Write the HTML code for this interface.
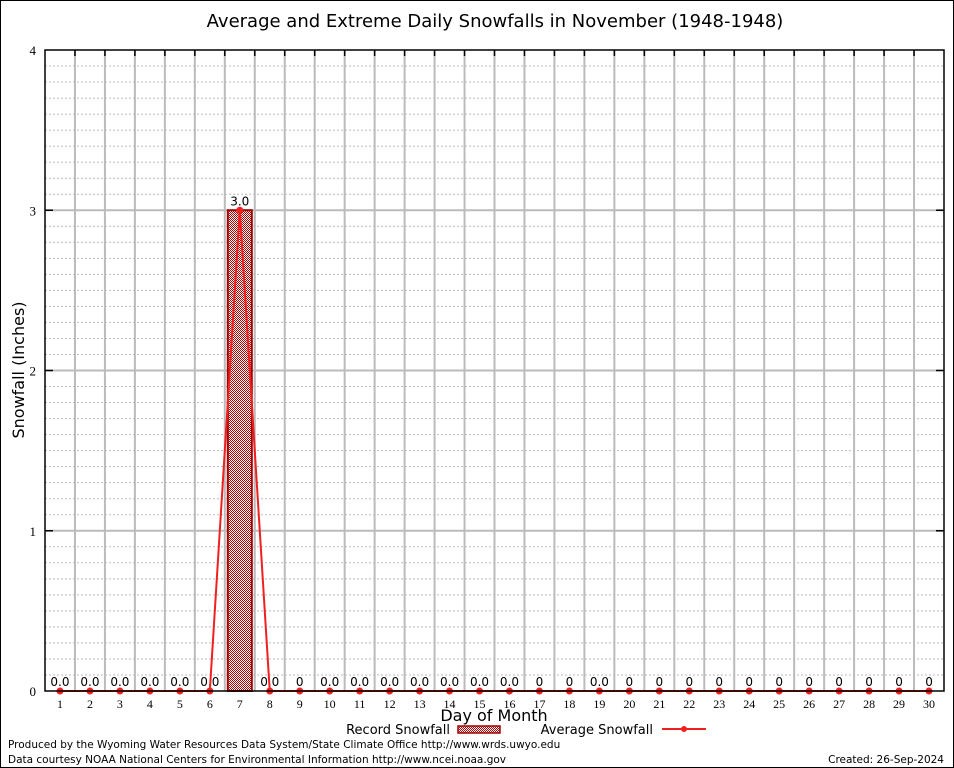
<!DOCTYPE html>
<html><head><meta charset="utf-8">
<style>
html,body{margin:0;padding:0;background:#fff;}
svg{display:block;}
text{font-family:"DejaVu Sans","Liberation Sans",sans-serif;}
text.serif{font-family:"Liberation Serif",serif;}
</style></head>
<body>
<svg id="chart" width="954" height="768" xmlns="http://www.w3.org/2000/svg">
  <rect x="0.5" y="0.5" width="953" height="767" fill="#fff" stroke="#000"/>
  <text x="495" y="27" font-size="18" text-anchor="middle">Average and Extreme Daily Snowfalls in November (1948-1948)</text>
  <defs>
    <pattern id="hatch" width="2" height="2" patternUnits="userSpaceOnUse">
      <rect width="2" height="2" fill="#fff"/>
      <rect width="1" height="1" fill="#b00000"/>
      <rect x="1" y="1" width="1" height="1" fill="#b00000"/>
    </pattern>
  </defs>
  <g id="grid"></g>
  <g id="marks"></g>
  <rect x="45" y="50" width="899" height="641" fill="none" stroke="#000" stroke-width="1.5"/>
  <text x="24" y="370" font-size="16" text-anchor="middle" transform="rotate(-90 24 370)">Snowfall (Inches)</text>
  <text x="494" y="721" font-size="16" text-anchor="middle">Day of Month</text>
  <g>
    <text x="450" y="734" font-size="13" text-anchor="end">Record Snowfall</text>
    <rect x="458" y="726" width="42" height="7" fill="url(#hatch)" stroke="#a00000" stroke-width="1.5"/>
    <text x="653" y="734" font-size="13" text-anchor="end">Average Snowfall</text>
    <line x1="662" y1="729" x2="706" y2="729" stroke="#f02020" stroke-width="2"/>
    <circle cx="684" cy="729" r="3" fill="#f02020"/>
  </g>
  <text x="8" y="748" font-size="10.5">Produced by the Wyoming Water Resources Data System/State Climate Office http://www.wrds.uwyo.edu</text>
  <text x="8" y="763" font-size="10.5">Data courtesy NOAA National Centers for Environmental Information http://www.ncei.noaa.gov</text>
  <text x="944" y="763" font-size="10.5" text-anchor="end">Created:  26-Sep-2024</text>
</svg>
<script>
const days = [1,2,3,4,5,6,7,8,9,10,11,12,13,14,15,16,17,18,19,20,21,22,23,24,25,26,27,28,29,30];
const recordSnow = [0,0,0,0,0,0,3.0,0,0,0,0,0,0,0,0,0,0,0,0,0,0,0,0,0,0,0,0,0,0,0];
const avgSnow = [0,0,0,0,0,0,3.0,0,0,0,0,0,0,0,0,0,0,0,0,0,0,0,0,0,0,0,0,0,0,0];
const recordLabels = ["0.0","0.0","0.0","0.0","0.0","0.0","3.0","0.0","0","0.0","0.0","0.0","0.0","0.0","0.0","0.0","0","0","0.0","0","0","0","0","0","0","0","0","0","0","0"];
const yTicks = [0,1,2,3,4];

const NS="http://www.w3.org/2000/svg";
const L=45,R=944,T=50,B=691,yMax=4;
const xs=d=>L+(d-0.5)*(R-L)/30;
const ys=v=>B-v*(B-T)/yMax;
function mk(tag,attrs,parent){const e=document.createElementNS(NS,tag);for(const k in attrs)e.setAttribute(k,attrs[k]);parent.appendChild(e);return e;}
const grid=document.getElementById('grid'), marks=document.getElementById('marks');

for(let i=1;i<yMax*10;i++){
  if(i%10===0)continue;
  const l=mk('line',{x1:L,x2:R,y1:ys(i/10),y2:ys(i/10),stroke:'#bbb','stroke-dasharray':'2,2'},grid);
  
  
}
for(let i=1;i<30;i++){
  const x=xs(i+0.5);
  const l=mk('line',{x1:x,x2:x,y1:T,y2:B,stroke:'#bbb','stroke-width':2},grid);
  
  
  const t=mk('line',{x1:x,x2:x,y1:T,y2:T+6,stroke:'#000','stroke-width':1.5},grid);
  
  
}
yTicks.forEach(v=>{
  if(v>0&&v<yMax){
    const l=mk('line',{x1:L,x2:R,y1:ys(v),y2:ys(v),stroke:'#bbb','stroke-width':2},grid);
    
    
    const t=mk('line',{x1:L,x2:L+8,y1:ys(v),y2:ys(v),stroke:'#000','stroke-width':1.5},grid);
    
    
    const t2=mk('line',{x1:R-8,x2:R,y1:ys(v),y2:ys(v),stroke:'#000','stroke-width':1.5},grid);
    
    
  }
  const tx=mk('text',{x:36,y:ys(v)+5,'font-size':13,'text-anchor':'end','class':'serif'},grid);
  tx.textContent=v;
  
  
});
days.forEach((d,i)=>{
  const x=xs(d);
  const tx=mk('text',{x:x,y:708,'font-size':12,'text-anchor':'middle','class':'serif'},grid);
  tx.textContent=d;
  
  
  if(recordSnow[i]>0){
    const b=mk('rect',{x:x-12,y:ys(recordSnow[i]),width:24,height:B-ys(recordSnow[i]),fill:'url(#hatch)',stroke:'#a00000','stroke-width':2},marks);
    
    
  }
  const lb=mk('text',{x:x,y:ys(recordSnow[i])-5,'font-size':12,'text-anchor':'middle'},marks);
  lb.textContent=recordLabels[i];
  
  
});
const pts=days.map((d,i)=>xs(d)+','+ys(avgSnow[i])).join(' ');
const pl=mk('polyline',{points:pts,fill:'none',stroke:'#f02020','stroke-width':2},marks);


days.forEach((d,i)=>{
  const c=mk('circle',{cx:xs(d),cy:ys(avgSnow[i]),r:3.5,fill:'#f02020'},marks);
  
  
});
</script>
</body></html>
